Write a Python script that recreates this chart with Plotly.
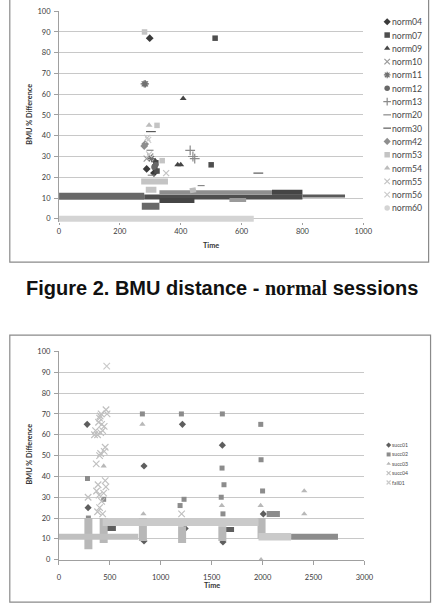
import plotly.graph_objects as go

W, H = 442, 610

# ---------------- data: top chart (normal sessions) ----------------
top_names = ["norm04", "norm07", "norm09", "norm10", "norm11", "norm12", "norm13",
             "norm20", "norm30", "norm42", "norm53", "norm54", "norm55", "norm56", "norm60"]

norm04_x = [298, 288, 312]
norm04_y = [87, 24, 22]
norm07_x = [513, 500, 315, 318, 322]
norm07_y = [87, 26, 25, 27, 23]
norm09_x = [408, 390, 400, 316]
norm09_y = [58, 26, 26, 28]
norm10_x = [288, 300]
norm10_y = [29, 30]
norm11_x = [280, 284, 304]
norm11_y = [65, 65, 29]
norm12_x = [318, 312]
norm12_y = [26, 25]
norm13_x = [431, 440, 446]
norm13_y = [33, 30, 29]
norm20_x = [299, 467, 303]
norm20_y = [33, 16, 21]
norm30_x = [302, 655]
norm30_y = [42, 22]
norm42_x = [280, 283]
norm42_y = [35, 36]
norm53_x = [281, 322, 339]
norm53_y = [90, 45, 28]
norm54_x = [296]
norm54_y = [45]
norm55_x = [290, 352]
norm55_y = [39, 22]
norm56_x = [293, 296]
norm56_y = [38, 31]
norm60_x = []
norm60_y = []

# runs of densely overlapping markers (series, start x, start y, end x, end y)
top_run_series = ["norm12", "norm12", "norm09", "norm07", "norm42", "norm09", "norm30",
                  "norm53", "norm53", "norm10", "norm54", "norm60"]
top_run_x0 = [0, 272, 330, 280, 330, 700, 800, 270, 285, 560, 430, 0]
top_run_y0 = [10.8, 6, 8.8, 10.5, 12.8, 12.8, 11, 18, 14, 9, 13.5, 0]
top_run_x1 = [280, 330, 445, 800, 700, 800, 940, 358, 320, 615, 450, 640]
top_run_y1 = [10.8, 6, 8.8, 10.5, 12.8, 12.8, 11, 18, 14, 9, 14, 0]

# ---------------- data: bottom chart ----------------
bot_names = ["succ01", "succ02", "succ03", "succ04", "fail01"]

succ01_x = [278, 287, 836, 1213, 1605, 2007, 836, 1611, 1240]
succ01_y = [65, 25, 45, 65, 55, 22, 9, 8.5, 15]
succ02_x = [281, 440, 820, 1203, 1605, 1602, 1621, 2000, 1594, 1611, 1985, 1190, 290, 1982, 1229, 1277]
succ02_y = [39, 29, 70, 70, 70, 44, 36, 33, 30, 22, 48, 26, 20, 65, 29, 18]
succ03_x = [440, 820, 830, 2409, 2409, 1600, 1981, 1985, 1985]
succ03_y = [45, 65, 22, 33, 22, 26, 26, 0, 12]
succ04_x = [463, 473, 420, 400, 390, 380, 410, 430, 445, 367, 455, 445, 410, 400, 385,
            370, 395, 420, 400, 380, 430, 455, 462, 440, 287, 1205, 405, 415, 350, 360]
succ04_y = [72, 70, 65, 68, 66, 60, 61, 62, 64, 46, 54, 52, 51, 50, 36,
            33, 31, 28, 25, 23, 22, 38, 35, 32, 30, 22, 69, 70, 60, 62]
fail01_x = [470]
fail01_y = [93]

bot_run_series = ["succ03", "succ03", "succ03", "succ03", "succ03", "succ03",
                  "succ04", "succ01", "succ01", "succ02", "fail01", "fail01", "succ02"]
bot_run_x0 = [290, 440, 825, 1210, 1605, 1990, 0, 460, 1610, 2040, 430, 1960, 2280]
bot_run_y0 = [5, 8, 9, 8, 9, 10, 11, 15, 14.5, 22, 18, 11, 11]
bot_run_x1 = [290, 440, 825, 1210, 1605, 1990, 780, 560, 1720, 2170, 1960, 2280, 2740]
bot_run_y1 = [20, 20, 20, 16, 16, 20, 11, 15, 14.5, 22, 18, 11, 11]

top_x_ticks = [0, 200, 400, 600, 800, 1000]
bot_x_ticks = [0, 500, 1000, 1500, 2000, 2500, 3000]
y_ticks = [0, 10, 20, 30, 40, 50, 60, 70, 80, 90, 100]

points = {
    "norm04": (norm04_x, norm04_y), "norm07": (norm07_x, norm07_y), "norm09": (norm09_x, norm09_y),
    "norm10": (norm10_x, norm10_y), "norm11": (norm11_x, norm11_y), "norm12": (norm12_x, norm12_y),
    "norm13": (norm13_x, norm13_y), "norm20": (norm20_x, norm20_y), "norm30": (norm30_x, norm30_y),
    "norm42": (norm42_x, norm42_y), "norm53": (norm53_x, norm53_y), "norm54": (norm54_x, norm54_y),
    "norm55": (norm55_x, norm55_y), "norm56": (norm56_x, norm56_y), "norm60": (norm60_x, norm60_y),
    "succ01": (succ01_x, succ01_y), "succ02": (succ02_x, succ02_y), "succ03": (succ03_x, succ03_y),
    "succ04": (succ04_x, succ04_y), "fail01": (fail01_x, fail01_y),
}

# ---------------- styles ----------------
STYLE = {
    "norm04": dict(symbol="diamond", color="#3a3a3a", size=6, band=7),
    "norm07": dict(symbol="square", color="#4e4e4e", size=5.5, band=5),
    "norm09": dict(symbol="triangle-up", color="#454545", size=6, band=5),
    "norm10": dict(symbol="x-thin-open", color="#9a9a9a", size=6, band=4),
    "norm11": dict(symbol="asterisk-open", color="#707070", size=6, band=4),
    "norm12": dict(symbol="circle", color="#686868", size=5.5, band=7),
    "norm13": dict(symbol="cross-thin-open", color="#8a8a8a", size=7, band=3),
    "norm20": dict(symbol="line-ew-open", color="#888888", size=5, band=3),
    "norm30": dict(symbol="line-ew-open", color="#5a5a5a", size=7, band=3),
    "norm42": dict(symbol="diamond", color="#8e8e8e", size=6, band=4),
    "norm53": dict(symbol="square", color="#c4c4c4", size=5.5, band=6),
    "norm54": dict(symbol="triangle-up", color="#bcbcbc", size=6, band=5),
    "norm55": dict(symbol="x-thin-open", color="#c4c4c4", size=6, band=4),
    "norm56": dict(symbol="x-thin-open", color="#cbcbcb", size=6, band=4),
    "norm60": dict(symbol="circle", color="#d4d4d4", size=5.5, band=6),
    "succ01": dict(symbol="diamond", color="#5e5e5e", size=5.5, band=5),
    "succ02": dict(symbol="square", color="#8c8c8c", size=5, band=6),
    "succ03": dict(symbol="triangle-up", color="#b8b8b8", size=5.5, band=8),
    "succ04": dict(symbol="x-thin-open", color="#c0c0c0", size=6.5, band=6),
    "fail01": dict(symbol="x-thin-open", color="#cacaca", size=6.5, band=7.5),
}

FONT = "Lato"
AX = "#a0a0a0"
GRID = "#c8c8c8"


def marker(st, size=None):
    open_sym = st["symbol"].endswith("open")
    return dict(symbol=st["symbol"], color=st["color"], size=size or st["size"],
                line=dict(width=1.2 if open_sym else 0, color=st["color"]))


fig = go.Figure()


def add_chart(names, runs, xa, ya):
    rs, rx0, ry0, rx1, ry1 = runs
    for name in names:
        st = STYLE[name]
        for s, a, b, c, d in zip(rs, rx0, ry0, rx1, ry1):
            if s == name:
                fig.add_trace(go.Scatter(x=[a, c], y=[b, d], mode="lines",
                                         line=dict(color=st["color"], width=st["band"]),
                                         xaxis=xa, yaxis=ya, showlegend=False, hoverinfo="skip"))
        xs, ys = points[name]
        if xs:
            fig.add_trace(go.Scatter(x=xs, y=ys, mode="markers", marker=marker(st),
                                     cliponaxis=False, xaxis=xa, yaxis=ya, showlegend=False,
                                     name=name))


add_chart(top_names, (top_run_series, top_run_x0, top_run_y0, top_run_x1, top_run_y1), "x", "y")
add_chart(bot_names, (bot_run_series, bot_run_x0, bot_run_y0, bot_run_x1, bot_run_y1), "x2", "y2")

# ---------------- legends (pixel overlay axis) ----------------
annotations = []
for i, name in enumerate(top_names):
    yc = 18 + 13.5 * i
    fig.add_trace(go.Scatter(x=[395], y=[yc], mode="markers", marker=marker(STYLE[name], 5.5),
                             xaxis="x3", yaxis="y3", showlegend=False, hoverinfo="skip"))
    annotations.append(dict(x=398 / W, y=1 - yc / H, xref="paper", yref="paper", text=name,
                            showarrow=False, xanchor="left", yanchor="middle",
                            font=dict(family=FONT, size=8.7, color="#4a4a4a")))
for i, name in enumerate(bot_names):
    yc = 447.7 + 9.5 * i
    fig.add_trace(go.Scatter(x=[396.5], y=[yc], mode="markers", marker=marker(STYLE[name], 4),
                             xaxis="x3", yaxis="y3", showlegend=False, hoverinfo="skip"))
    annotations.append(dict(x=398 / W, y=1 - yc / H, xref="paper", yref="paper", text=name,
                            showarrow=False, xanchor="left", yanchor="middle",
                            font=dict(family=FONT, size=5.2, color="#4a4a4a")))


def px_ann(x, y, text, size, angle=0, family=FONT, color="#333333"):
    annotations.append(dict(x=x / W, y=1 - y / H, xref="paper", yref="paper", text=text,
                            showarrow=False, xanchor="center", yanchor="middle", textangle=angle,
                            font=dict(family=family, size=size, color=color)))


px_ann(28, 112, "<b>BMU % Difference</b>", 7.3, -90)
px_ann(214, 245, "<b>Time</b>", 7.3)
px_ann(28, 457, "<b>BMU % Difference</b>", 7.3, -90)
px_ann(215, 590.5, "<b>Time</b>", 7.3)
px_ann(226, 288,
       "<b>Figure 2. BMU distance - <span style='font-family:Liberation Serif'>normal</span> sessions</b>",
       20, family="Liberation Sans", color="#111111")

# ---------------- frames ----------------
def box(x0, y0, x1, y1):
    return dict(type="rect", xref="paper", yref="paper", x0=x0 / W, x1=x1 / W,
                y0=1 - y1 / H, y1=1 - y0 / H, line=dict(color="#8a8a8a", width=1.2),
                fillcolor="rgba(0,0,0,0)", layer="below")


shapes = [box(8, -5, 437.5, 262), box(8, 336, 439.5, 607)]

# ---------------- axes ----------------
x_dom = [58.5 / W, 370.5 / W]
ppu_top = (218 - 7.3) / 100.0
top_bottom_px = 218 + 1.5 * ppu_top
y_dom_top = [1 - top_bottom_px / H, 1 - 7.3 / H]
y_dom_bot = [1 - 564 / H, 1 - 352.7 / H]
x_dom_bot = [58.3 / W, 371.7 / W]

tickfont = dict(family=FONT, size=7.5, color="#3a3a3a")
common_y = dict(tickvals=y_ticks, showgrid=True, gridcolor=GRID, gridwidth=1.4, zeroline=False,
                showline=True, linecolor=AX, linewidth=1, ticks="outside", ticklen=4,
                tickcolor=AX, tickfont=tickfont, ticklabelstandoff=2)

fig.update_layout(
    width=W, height=H, margin=dict(l=0, r=0, t=0, b=0),
    paper_bgcolor="white", plot_bgcolor="rgba(0,0,0,0)",
    xaxis=dict(domain=x_dom, range=[0, 1000], tickvals=top_x_ticks, showgrid=False, zeroline=False,
               showline=False, ticks="outside", ticklen=2, tickcolor=AX, tickfont=tickfont,
               anchor="y", ticklabelstandoff=0),
    yaxis=dict(domain=y_dom_top, range=[-1.5, 100], anchor="x", **common_y),
    xaxis2=dict(domain=x_dom_bot, range=[0, 3000], tickvals=bot_x_ticks, showgrid=False,
                zeroline=False, showline=True, linecolor=AX, linewidth=1, ticks="outside",
                ticklen=4, tickcolor=AX, tickfont=tickfont, anchor="y2", ticklabelstandoff=6),
    yaxis2=dict(domain=y_dom_bot, range=[0, 100], anchor="x2", **common_y),
    xaxis3=dict(domain=[0, 1], range=[0, W], visible=False, anchor="y3"),
    yaxis3=dict(domain=[0, 1], range=[H, 0], visible=False, anchor="x3"),
    annotations=annotations, shapes=shapes, showlegend=False,
)

fig.write_html("out.html")
